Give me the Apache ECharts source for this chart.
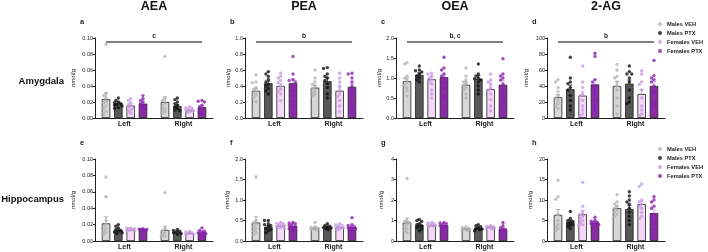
<!DOCTYPE html>
<html lang="en">
<head>
<meta charset="UTF-8">
<title>Endocannabinoids</title>
<script src="https://cdn.jsdelivr.net/npm/echarts@6/dist/echarts.min.js"></script>
<style>
    html, body { margin: 0; padding: 0; background: #fff; }
    #charts { width: 708px; height: 252px; }
</style>
</head>
<body>
<div id="charts"></div>
<script>
    var analytes = ['AEA', 'PEA', 'OEA', '2-AG'];
    var regions = ['Amygdala', 'Hippocampus'];
    var sides = ['Left', 'Right'];
    var groups = ['Males VEH', 'Males PTX', 'Females VEH', 'Females PTX'];
    var letters = [['a', 'b', 'c', 'd'], ['e', 'f', 'g', 'h']];
    var yMax = [[0.10, 1.0, 2.0, 100], [0.10, 2.0, 4, 20]];
    var yStep = [[0.02, 0.2, 0.5, 20], [0.02, 0.5, 1, 5]];
    var yDigits = [[2, 1, 1, 0], [2, 1, 0, 0]];
    var sigLabels = ['c', 'b', 'b, c', 'b'];
    var sigLevels = [0.095, 0.95, 1.9, 95];

    // means / sem: [side][group]; points: [side][group][...]
    var meanAmyAEA = [[0.0235, 0.0185, 0.0155, 0.018], [0.020, 0.015, 0.0095, 0.0135]];
    var semAmyAEA = [[0.0075, 0.0015, 0.002, 0.0017], [0.0065, 0.0015, 0.001, 0.0018]];
    var ptsAmyAEA = [
        [[0.092, 0.031, 0.028, 0.025, 0.021, 0.019, 0.015, 0.012, 0.008, 0.005],
         [0.025, 0.022, 0.020, 0.019, 0.018, 0.017, 0.016, 0.015, 0.013, 0.012],
         [0.024, 0.022, 0.019, 0.017, 0.015, 0.013, 0.012, 0.010, 0.008, 0.006],
         [0.028, 0.024, 0.022, 0.020, 0.018, 0.016, 0.014, 0.013, 0.012, 0.010]],
        [[0.077, 0.024, 0.022, 0.018, 0.015, 0.012, 0.010, 0.008, 0.006],
         [0.025, 0.023, 0.020, 0.018, 0.016, 0.014, 0.012, 0.010, 0.009],
         [0.014, 0.013, 0.012, 0.011, 0.010, 0.009, 0.008, 0.007],
         [0.022, 0.021, 0.020, 0.016, 0.014, 0.012, 0.010, 0.007, 0.005]]
    ];

    var meanAmyPEA = [[0.34, 0.435, 0.40, 0.435], [0.38, 0.46, 0.34, 0.39]];
    var semAmyPEA = [[0.025, 0.025, 0.03, 0.055], [0.028, 0.04, 0.045, 0.05]];
    var ptsAmyPEA = [
        [[0.54, 0.45, 0.44, 0.38, 0.36, 0.33, 0.31, 0.29, 0.26, 0.20],
         [0.58, 0.55, 0.52, 0.48, 0.45, 0.42, 0.40, 0.37, 0.34, 0.30],
         [0.56, 0.52, 0.50, 0.47, 0.44, 0.40, 0.36, 0.33, 0.30, 0.22],
         [0.77, 0.55, 0.48, 0.47, 0.45, 0.40, 0.35, 0.28, 0.20, 0.15]],
        [[0.60, 0.50, 0.45, 0.42, 0.40, 0.37, 0.34, 0.32, 0.30, 0.28],
         [0.63, 0.62, 0.55, 0.52, 0.50, 0.47, 0.43, 0.38, 0.30, 0.25],
         [0.56, 0.50, 0.45, 0.40, 0.35, 0.30, 0.27, 0.22, 0.15, 0.08],
         [0.56, 0.55, 0.50, 0.45, 0.40, 0.35, 0.30, 0.22, 0.15, 0.10]]
    ];

    var meanAmyOEA = [[0.92, 1.08, 0.97, 1.02], [0.83, 0.98, 0.72, 0.83]];
    var semAmyOEA = [[0.08, 0.05, 0.06, 0.09], [0.07, 0.08, 0.08, 0.11]];
    var ptsAmyOEA = [
        [[1.38, 1.35, 1.05, 1.00, 0.95, 0.88, 0.82, 0.76, 0.68, 0.55],
         [1.30, 1.20, 1.18, 1.15, 1.10, 1.05, 1.00, 0.95, 0.90],
         [1.12, 1.10, 1.05, 1.00, 0.95, 0.90, 0.85, 0.70, 0.60, 0.50],
         [1.52, 1.25, 1.20, 1.10, 1.05, 1.00, 0.90, 0.75, 0.55, 0.52]],
        [[1.25, 1.05, 0.95, 0.90, 0.85, 0.80, 0.75, 0.70, 0.60, 0.50],
         [1.35, 1.10, 1.05, 1.00, 0.98, 0.95, 0.90, 0.80, 0.70, 0.60],
         [1.10, 0.95, 0.90, 0.85, 0.75, 0.70, 0.60, 0.46, 0.30, 0.18],
         [1.48, 1.10, 1.05, 1.00, 0.95, 0.85, 0.70, 0.55, 0.45, 0.35]]
    ];

    var meanAmy2AG = [[26, 36, 28, 42], [40, 43, 30, 40]];
    var semAmy2AG = [[3.5, 5, 5, 6], [5.5, 4.5, 5.5, 5.5]];
    var ptsAmy2AG = [
        [[48, 45, 38, 33, 28, 25, 22, 18, 15, 12],
         [76, 50, 45, 43, 38, 35, 28, 22, 15, 10],
         [65, 45, 38, 30, 28, 22, 15, 10, 5, 3],
         [81, 77, 48, 45, 40, 35, 30, 22, 15, 10]],
        [[67, 60, 52, 50, 45, 40, 35, 25, 15, 5],
         [65, 58, 55, 55, 50, 45, 35, 25, 20, 18],
         [59, 55, 45, 42, 35, 25, 15, 10, 5, 3],
         [72, 53, 50, 48, 45, 40, 32, 20, 15, 12]]
    ];

    var meanHipAEA = [[0.0215, 0.0135, 0.014, 0.014], [0.0135, 0.011, 0.0095, 0.0105]];
    var semHipAEA = [[0.008, 0.001, 0.0008, 0.0005], [0.0045, 0.0008, 0.0007, 0.001]];
    var ptsHipAEA = [
        [[0.078, 0.054, 0.025, 0.020, 0.018, 0.015, 0.012, 0.010, 0.008],
         [0.020, 0.018, 0.016, 0.014, 0.013, 0.012, 0.011, 0.010, 0.009],
         [0.016, 0.016, 0.015, 0.015, 0.014, 0.013, 0.013, 0.012],
         [0.015, 0.0145, 0.014, 0.014, 0.0135, 0.013, 0.013]],
        [[0.059, 0.015, 0.012, 0.010, 0.008, 0.006, 0.005],
         [0.014, 0.013, 0.012, 0.011, 0.010, 0.009, 0.008],
         [0.012, 0.011, 0.010, 0.009, 0.008, 0.008],
         [0.016, 0.013, 0.012, 0.011, 0.010, 0.009, 0.008, 0.006]]
    ];

    var meanHipPEA = [[0.45, 0.35, 0.37, 0.37], [0.31, 0.33, 0.33, 0.34]];
    var semHipPEA = [[0.14, 0.03, 0.02, 0.02], [0.02, 0.02, 0.02, 0.03]];
    var ptsHipPEA = [
        [[1.56, 0.50, 0.45, 0.40, 0.35, 0.30, 0.25, 0.20, 0.15],
         [0.50, 0.50, 0.42, 0.40, 0.38, 0.35, 0.30, 0.28, 0.25, 0.20],
         [0.45, 0.43, 0.42, 0.40, 0.38, 0.36, 0.35, 0.33, 0.30],
         [0.45, 0.44, 0.42, 0.40, 0.38, 0.35, 0.32, 0.30, 0.25]],
        [[0.45, 0.35, 0.33, 0.32, 0.30, 0.30, 0.28, 0.27],
         [0.42, 0.38, 0.36, 0.34, 0.33, 0.32, 0.30, 0.28],
         [0.42, 0.40, 0.38, 0.36, 0.34, 0.32, 0.30, 0.27],
         [0.57, 0.40, 0.38, 0.35, 0.33, 0.32, 0.30, 0.25, 0.20]]
    ];

    var meanHipOEA = [[0.90, 0.78, 0.78, 0.78], [0.59, 0.65, 0.67, 0.59]];
    var semHipOEA = [[0.22, 0.06, 0.03, 0.05], [0.02, 0.03, 0.03, 0.05]];
    var ptsHipOEA = [
        [[3.05, 1.00, 0.95, 0.90, 0.80, 0.70, 0.60, 0.50, 0.40],
         [1.05, 1.00, 0.95, 0.85, 0.80, 0.75, 0.70, 0.65, 0.60, 0.50],
         [0.90, 0.88, 0.85, 0.80, 0.78, 0.75, 0.72, 0.70],
         [0.90, 0.88, 0.85, 0.80, 0.75, 0.70, 0.60, 0.55]],
        [[0.68, 0.65, 0.62, 0.60, 0.58, 0.55, 0.50],
         [0.80, 0.75, 0.70, 0.65, 0.60, 0.58, 0.55, 0.50],
         [0.75, 0.72, 0.70, 0.68, 0.65, 0.60, 0.58],
         [0.90, 0.75, 0.65, 0.60, 0.55, 0.50, 0.45, 0.40]]
    ];

    var meanHip2AG = [[6.4, 4.7, 6.5, 4.5], [8.0, 7.8, 9.0, 6.8]];
    var semHip2AG = [[1.3, 0.4, 1.0, 0.3], [0.5, 0.9, 0.7, 0.8]];
    var ptsHip2AG = [
        [[14.8, 10.8, 10.2, 6.5, 5, 4, 3.5, 3, 2.5],
         [7.2, 5.5, 5, 4.8, 4.5, 4.2, 4, 3.8, 3.5, 3],
         [14.3, 8.5, 7, 6.5, 6, 5.5, 5, 4.5, 4, 3.8],
         [5.8, 5, 4.8, 4.6, 4.5, 4.2, 4, 3.8]],
        [[11.3, 9.5, 9, 8.5, 8, 7.5, 7, 6.5, 6],
         [12, 11, 10, 9.5, 9, 8, 7, 6, 5, 4],
         [13.9, 13.3, 10, 9.5, 9, 8.5, 8, 7, 6, 5.5],
         [10.8, 10, 9.5, 8.5, 8, 6.5, 6, 5, 4, 3]]
    ];

    var panels = [
        [{m: meanAmyAEA, s: semAmyAEA, p: ptsAmyAEA}, {m: meanAmyPEA, s: semAmyPEA, p: ptsAmyPEA},
         {m: meanAmyOEA, s: semAmyOEA, p: ptsAmyOEA}, {m: meanAmy2AG, s: semAmy2AG, p: ptsAmy2AG}],
        [{m: meanHipAEA, s: semHipAEA, p: ptsHipAEA}, {m: meanHipPEA, s: semHipPEA, p: ptsHipPEA},
         {m: meanHipOEA, s: semHipOEA, p: ptsHipOEA}, {m: meanHip2AG, s: semHip2AG, p: ptsHip2AG}]
    ];

    // layout
    var colLeft = [95, 245, 396, 547];
    var gridW = 118;
    var rowTop = [38, 159];
    var gridH = [80, 82];
    var nameGaps = [[19, 14, 14, 18], [19, 15, 12, 14]];
    var barW = 8.5;
    var pitch = barW * 1.45;

    var barFill = ['#d7d7d7', '#585858', '#f5d8f8', '#8b2ca7'];
    var dotColor = ['#b4b4b4', '#111111', '#c89ce0', '#8a1fae'];
    var errColor = ['#9c9c9c', '#111111', '#c89ce0', '#c89ce0'];
    var ink = '#222';

    // spread dots sideways so they don't sit on top of each other
    function swarm(vals, max, h) {
        var placed = [];
        var cands = [0, -2.4, 2.4, -3.8, 3.8, -1.2, 1.2];
        return vals.map(function (v) {
            var py = v / max * h;
            var best = 0, bestD = -1;
            for (var k = 0; k < cands.length; k++) {
                var dmin = 99;
                placed.forEach(function (q) {
                    var d = Math.sqrt(Math.pow(q[0] - cands[k], 2) + Math.pow(q[1] - py, 2));
                    if (d < dmin) dmin = d;
                });
                if (dmin >= 2.6) { best = cands[k]; bestD = dmin; break; }
                if (dmin > bestD) { bestD = dmin; best = cands[k]; }
            }
            placed.push([best, py]);
            return best;
        });
    }

    var grids = [], xAxes = [], yAxes = [], series = [], graphics = [];

    for (var r = 0; r < 2; r++) {
        for (var c = 0; c < 4; c++) {
            var gi = r * 4 + c;
            var pd = panels[r][c];
            var max = yMax[r][c];
            grids.push({left: colLeft[c], top: rowTop[r], width: gridW, height: gridH[r]});
            xAxes.push({
                type: 'category', gridIndex: gi, data: sides,
                axisLine: {lineStyle: {color: ink, width: 1}},
                axisTick: {show: false},
                axisLabel: {fontSize: 7, fontWeight: 'bold', color: ink, margin: 3, fontFamily: 'Liberation Sans'}
            });
            (function (digits) {
                yAxes.push({
                    type: 'value', gridIndex: gi, min: 0, max: max, interval: yStep[r][c],
                    name: 'nmol/g', nameLocation: 'middle', nameGap: nameGaps[r][c],
                    nameTextStyle: {fontSize: 6, color: ink, fontFamily: 'Liberation Sans'},
                    axisLine: {show: true, lineStyle: {color: ink, width: 1}},
                    axisTick: {show: true, length: 2, lineStyle: {color: ink}},
                    axisLabel: {fontSize: 5.5, color: ink, margin: 2, fontFamily: 'Liberation Sans',
                        formatter: function (v) { return v.toFixed(digits); }},
                    splitLine: {show: false}
                });
            })(yDigits[r][c]);

            for (var g = 0; g < 4; g++) {
                series.push({
                    type: 'bar', name: 'bar ' + groups[g], xAxisIndex: gi, yAxisIndex: gi,
                    data: [pd.m[0][g], pd.m[1][g]],
                    barWidth: barW, barGap: '45%',
                    itemStyle: {color: barFill[g], borderColor: ink, borderWidth: 0.8},
                    silent: true, z: 2
                });
            }

            var errData = [];
            for (var sd = 0; sd < 2; sd++) {
                for (var g2 = 0; g2 < 4; g2++) {
                    errData.push([sd, pd.m[sd][g2], pd.s[sd][g2], g2]);
                }
            }
            series.push({
                type: 'custom', xAxisIndex: gi, yAxisIndex: gi, silent: true, z: 3,
                data: errData,
                renderItem: function (params, api) {
                    var ci = api.value(0), m = api.value(1), s = api.value(2), g = api.value(3);
                    var top = api.coord([ci, m + s]);
                    var base = api.coord([ci, m]);
                    var x = top[0] + (g - 1.5) * pitch;
                    var st = {stroke: errColor[g], lineWidth: 0.8};
                    return {type: 'group', children: [
                        {type: 'line', shape: {x1: x, y1: base[1], x2: x, y2: top[1]}, style: st},
                        {type: 'line', shape: {x1: x - 2, y1: top[1], x2: x + 2, y2: top[1]}, style: st}
                    ]};
                }
            });

            for (var g3 = 0; g3 < 4; g3++) {
                var dots = [];
                for (var sd2 = 0; sd2 < 2; sd2++) {
                    var vals = pd.p[sd2][g3];
                    var offs = swarm(vals, max, gridH[r]);
                    vals.forEach(function (v, k) {
                        dots.push({value: [sides[sd2], v], symbolOffset: [(g3 - 1.5) * pitch + offs[k], 0]});
                    });
                }
                series.push({
                    type: 'scatter', name: groups[g3], xAxisIndex: gi, yAxisIndex: gi,
                    data: dots, symbolSize: 3.4,
                    itemStyle: {color: dotColor[g3]}, silent: true, z: 4
                });
            }

            if (r === 0) {
                (function (label) {
                    series.push({
                        type: 'custom', xAxisIndex: gi, yAxisIndex: gi, silent: true, z: 5,
                        data: [[0, sigLevels[c]]],
                        renderItem: function (params, api) {
                            var p0 = api.coord([0, api.value(1)]);
                            var p1 = api.coord([1, api.value(1)]);
                            var x1 = p0[0] - 1.5 * pitch, x2 = p1[0] + 1.5 * pitch;
                            return {type: 'group', children: [
                                {type: 'line', shape: {x1: x1, y1: p0[1], x2: x2, y2: p0[1]},
                                    style: {stroke: '#555', lineWidth: 1.5}},
                                {type: 'text', style: {text: label, x: (x1 + x2) / 2, y: p0[1] - 2,
                                    textAlign: 'center', textVerticalAlign: 'bottom',
                                    fontSize: 6.5, fontWeight: 'bold', fill: ink, fontFamily: 'Liberation Sans'}}
                            ]};
                        }
                    });
                })(sigLabels[c]);
            }

            graphics.push({type: 'text', left: colLeft[c] - 15, top: rowTop[r] - 20,
                style: {text: letters[r][c], fontSize: 7.5, fontWeight: 'bold', fill: ink, fontFamily: 'Liberation Sans'}});
        }
    }

    analytes.forEach(function (a, c) {
        graphics.push({type: 'text', x: colLeft[c] + gridW / 2, y: 7,
            style: {text: a, fontSize: 12.5, fontWeight: 'bold', fill: '#111', textAlign: 'center',
                textVerticalAlign: 'middle', fontFamily: 'Liberation Sans'}});
    });
    var rowMid = [81, 199];
    regions.forEach(function (name, r) {
        graphics.push({type: 'text', x: 64, y: rowMid[r],
            style: {text: name, fontSize: 9.5, fontWeight: 'bold', fill: '#111', textAlign: 'right',
                textVerticalAlign: 'middle', fontFamily: 'Liberation Sans'}});
    });

    var legendBase = {
        orient: 'vertical', left: 658, data: groups, icon: 'circle',
        itemWidth: 4, itemHeight: 4, itemGap: 1, padding: 0, selectedMode: false,
        textStyle: {fontSize: 5.7, fontWeight: 'bold', color: ink, lineHeight: 8, fontFamily: 'Liberation Sans'}
    };

    var myChart = echarts.init(document.getElementById('charts'), null, {renderer: 'canvas'});
    myChart.setOption({
        animation: false,
        grid: grids,
        xAxis: xAxes,
        yAxis: yAxes,
        legend: [Object.assign({top: 20}, legendBase), Object.assign({top: 145}, legendBase)],
        graphic: graphics,
        series: series
    });
</script>
</body>
</html>
